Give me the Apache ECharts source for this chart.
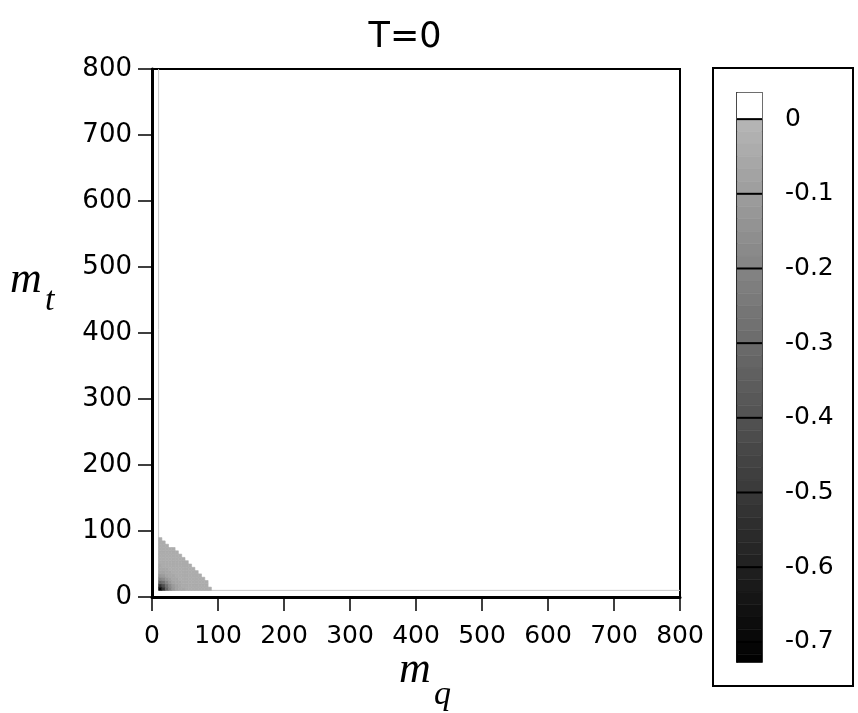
<!DOCTYPE html>
<html>
<head>
<meta charset="utf-8">
<script src="https://cdn.jsdelivr.net/npm/echarts@6/dist/echarts.min.js"></script>
<style>
  html, body { margin: 0; padding: 0; background: #ffffff; }
  #chart { width: 858px; height: 713px; }
</style>
</head>
<body>
<div id="chart"></div>
<script>
// Lower edges of the sampled cells in the (m_q, m_t) plane
const mqCells = [10, 15, 20, 25, 30, 35, 40, 45, 50, 55, 60, 65, 70, 75, 80, 85];
const mtCells = [10, 15, 20, 25, 30, 35, 40, 45, 50, 55, 60, 65, 70, 75, 80, 85];
const cellSize = 5;

// Field value per cell, one row per m_t (lowest row first); null = value >= 0
const fieldRows = [
  [-0.70, -0.52, -0.33, -0.20, -0.12, -0.08, -0.06, -0.05, -0.04, -0.04, -0.04, -0.04, -0.04, -0.04, -0.04, -0.04],
  [-0.52, -0.40, -0.27, -0.17, -0.10, -0.07, -0.05, -0.04, -0.04, -0.04, -0.04, -0.04, -0.04, -0.04, -0.04, null],
  [-0.33, -0.27, -0.19, -0.13, -0.08, -0.06, -0.05, -0.04, -0.04, -0.04, -0.04, -0.04, -0.04, -0.04, -0.04, null],
  [-0.20, -0.17, -0.13, -0.09, -0.06, -0.05, -0.04, -0.04, -0.04, -0.04, -0.04, -0.04, -0.04, -0.04, null, null],
  [-0.12, -0.10, -0.08, -0.06, -0.05, -0.04, -0.04, -0.04, -0.04, -0.04, -0.04, -0.04, -0.04, null, null, null],
  [-0.08, -0.07, -0.06, -0.05, -0.04, -0.04, -0.04, -0.04, -0.04, -0.04, -0.04, -0.04, null, null, null, null],
  [-0.06, -0.05, -0.05, -0.04, -0.04, -0.04, -0.04, -0.04, -0.04, -0.04, -0.04, null, null, null, null, null],
  [-0.05, -0.04, -0.04, -0.04, -0.04, -0.04, -0.04, -0.04, -0.04, -0.04, null, null, null, null, null, null],
  [-0.04, -0.04, -0.04, -0.04, -0.04, -0.04, -0.04, -0.04, -0.04, null, null, null, null, null, null, null],
  [-0.04, -0.04, -0.04, -0.04, -0.04, -0.04, -0.04, -0.04, null, null, null, null, null, null, null, null],
  [-0.04, -0.04, -0.04, -0.04, -0.04, -0.04, -0.04, null, null, null, null, null, null, null, null, null],
  [-0.04, -0.04, -0.04, -0.04, -0.04, -0.04, null, null, null, null, null, null, null, null, null, null],
  [-0.04, -0.04, -0.04, -0.04, -0.04, null, null, null, null, null, null, null, null, null, null, null],
  [-0.04, -0.04, -0.04, null, null, null, null, null, null, null, null, null, null, null, null, null],
  [-0.04, -0.04, null, null, null, null, null, null, null, null, null, null, null, null, null, null],
  [-0.04, null, null, null, null, null, null, null, null, null, null, null, null, null, null, null]
];

// Computed domain of the scan: [mqMin, mtMin, mqMax, mtMax]
const scanDomain = [10, 10, 800, 800];

// Colour scale
const cbTicks = [0, -0.1, -0.2, -0.3, -0.4, -0.5, -0.6, -0.7];
const cbMin = -0.727;
const cbMax = 0.035;
const cbStep = 0.1 / 6;

function grayFor(v) {
  if (v >= 0) return '#ffffff';
  const k = Math.floor(-v / cbStep);
  const mid = (k + 0.5) * cbStep;
  const g = Math.max(0, Math.round(182 * (1 - mid / -cbMin)));
  return 'rgb(' + g + ',' + g + ',' + g + ')';
}

// Flatten the field into [mq, mt, value] cells
const cells = [];
fieldRows.forEach(function (row, j) {
  row.forEach(function (v, i) {
    if (v !== null) cells.push([mqCells[i], mtCells[j], v]);
  });
});

// Colour-bar bands: [low, high, representative value]
const bands = [[0, cbMax, 0]];
for (let k = 0; -(k * cbStep) > cbMin + 1e-9; k++) {
  const hi = -k * cbStep;
  const lo = Math.max(cbMin, -(k + 1) * cbStep);
  bands.push([lo, hi, -(k + 0.5) * cbStep]);
}

const FONT = 'DejaVu Sans, Verdana, sans-serif';
const SERIF = 'Liberation Serif, Times New Roman, serif';

const chart = echarts.init(document.getElementById('chart'), null, { renderer: 'canvas' });

function rectBetween(api, a, b) {
  const p0 = api.coord(a);
  const p1 = api.coord(b);
  return { x: p0[0], y: p1[1], width: p1[0] - p0[0], height: p0[1] - p1[1] };
}

chart.setOption({
  animation: false,
  backgroundColor: '#ffffff',
  title: {
    text: 'T=0',
    left: 400,
    top: 15,
    textAlign: 'center',
    textStyle: { fontSize: 35, fontWeight: 'normal', color: '#000', fontFamily: FONT }
  },
  grid: [
    { left: 152, top: 69, width: 528, height: 528, show: true, borderColor: '#000', borderWidth: 2, backgroundColor: 'transparent' },
    { left: 737, top: 93, width: 25, height: 569, show: true, borderColor: '#000', borderWidth: 1.5, backgroundColor: 'transparent' }
  ],
  xAxis: [
    {
      gridIndex: 0, type: 'value', min: 0, max: 800, interval: 100,
      axisLine: { show: true, onZero: false, lineStyle: { color: '#000', width: 3 } },
      axisTick: { show: true, length: 14, lineStyle: { color: '#000', width: 1.5 } },
      axisLabel: { show: true, margin: 27, fontSize: 25, color: '#000', fontFamily: FONT },
      splitLine: { show: false }
    },
    { gridIndex: 1, type: 'value', min: 0, max: 1, show: false }
  ],
  yAxis: [
    {
      gridIndex: 0, type: 'value', min: 0, max: 800, interval: 100,
      axisLine: { show: true, onZero: false, lineStyle: { color: '#000', width: 3 } },
      axisTick: { show: true, length: 14, lineStyle: { color: '#000', width: 1.5 } },
      axisLabel: { show: true, margin: 20, fontSize: 26, color: '#000', fontFamily: FONT },
      splitLine: { show: false }
    },
    {
      gridIndex: 1, type: 'value', min: cbMin, max: cbMax, position: 'right',
      axisLine: { show: true, lineStyle: { color: '#000', width: 1.5 } },
      axisTick: { show: false },
      axisLabel: { show: true, margin: 23, fontSize: 25, color: '#000', fontFamily: FONT,
        customValues: cbTicks,
        formatter: function (v) { return String(Math.round(v * 10) / 10); } },
      splitLine: { show: false }
    }
  ],
  graphic: [
    // frame around the colour scale
    { type: 'rect', shape: { x: 713, y: 68, width: 140, height: 618 }, style: { fill: 'none', stroke: '#000', lineWidth: 2 }, z: 0 },
    // axis titles
    { type: 'text', x: 10, y: 302, style: { text: 'm', font: 'italic 44px ' + SERIF, fill: '#000', textVerticalAlign: 'bottom' } },
    { type: 'text', x: 45, y: 318, style: { text: 't', font: 'italic 34px ' + SERIF, fill: '#000', textVerticalAlign: 'bottom' } },
    { type: 'text', x: 399, y: 692, style: { text: 'm', font: 'italic 44px ' + SERIF, fill: '#000', textVerticalAlign: 'bottom' } },
    { type: 'text', x: 434, y: 712, style: { text: 'q', font: 'italic 34px ' + SERIF, fill: '#000', textVerticalAlign: 'bottom' } }
  ],
  series: [
    {
      // lower and left edges of the scanned domain
      type: 'custom',
      xAxisIndex: 0, yAxisIndex: 0,
      data: [scanDomain],
      renderItem: function (params, api) {
        const a = api.coord([api.value(0), api.value(3)]);
        const b = api.coord([api.value(0), api.value(1)]);
        const c = api.coord([api.value(2), api.value(1)]);
        return {
          type: 'polyline',
          shape: { points: [a, b, c] },
          style: { fill: 'none', stroke: '#c8c8c8', lineWidth: 1 }
        };
      },
      silent: true
    },
    {
      type: 'custom',
      xAxisIndex: 0, yAxisIndex: 0,
      data: cells,
      renderItem: function (params, api) {
        const x0 = api.value(0), y0 = api.value(1);
        const c = grayFor(api.value(2));
        return {
          type: 'rect',
          shape: rectBetween(api, [x0, y0], [x0 + cellSize, y0 + cellSize]),
          style: { fill: c, stroke: c, lineWidth: 0.6 }
        };
      },
      silent: true
    },
    {
      type: 'custom',
      xAxisIndex: 1, yAxisIndex: 1,
      data: bands,
      renderItem: function (params, api) {
        const c = grayFor(api.value(2));
        return {
          type: 'rect',
          shape: rectBetween(api, [0, api.value(0)], [1, api.value(1)]),
          style: { fill: c, stroke: c, lineWidth: 0.5 }
        };
      },
      silent: true
    },
    {
      // tick marks across the colour bar
      type: 'custom',
      xAxisIndex: 1, yAxisIndex: 1,
      data: cbTicks.map(function (t) { return [t]; }),
      z: 5,
      renderItem: function (params, api) {
        const a = api.coord([0, api.value(0)]);
        const b = api.coord([1, api.value(0)]);
        return {
          type: 'line',
          shape: { x1: a[0], y1: a[1], x2: b[0], y2: b[1] },
          style: { stroke: '#000', lineWidth: 2 }
        };
      },
      silent: true
    }
  ]
});
</script>
</body>
</html>
